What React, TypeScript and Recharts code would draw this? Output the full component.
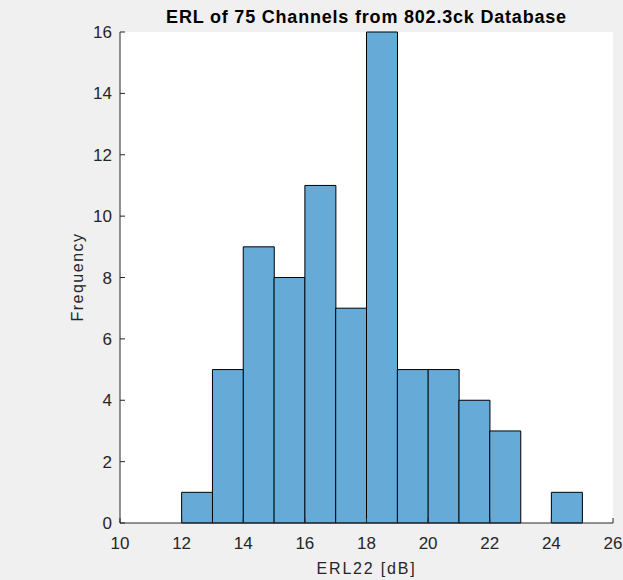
import { Bar, CartesianGrid, ComposedChart, XAxis, YAxis } from "recharts";

// histogram bins of width 1 dB, left edges
const binStarts = [10, 11, 12, 13, 14, 15, 16, 17, 18, 19, 20, 21, 22, 23, 24, 25];
const counts = [0, 0, 1, 5, 9, 8, 11, 7, 16, 5, 5, 4, 3, 0, 1, 0];
const xTicks = [10, 12, 14, 16, 18, 20, 22, 24, 26];
const yTicks = [0, 2, 4, 6, 8, 10, 12, 14, 16];

const data = binStarts.map((s, i) => ({ center: s + 0.5, count: counts[i] }));

const ink = "#262626";
const font = "'Liberation Sans', Arial, sans-serif";
const tickStyle = { fill: ink, fontSize: 17, fontFamily: font };

export default function App() {
  return (
    <div
      style={{
        position: "absolute",
        left: 0,
        top: 0,
        width: 623,
        height: 580,
        background: "#f0f0f0",
        fontFamily: font,
      }}
    >
      <ComposedChart
        width={623}
        height={580}
        data={data}
        barCategoryGap={0}
        barGap={0}
        margin={{ top: 32, right: 10, bottom: 0, left: 0 }}
      >
        <CartesianGrid horizontal={false} vertical={false} fill="#ffffff" xAxisId="bottom" yAxisId="left" />
        <XAxis
          xAxisId="bottom"
          dataKey="center"
          type="number"
          domain={[10, 26]}
          ticks={xTicks}
          allowDataOverflow
          height={57}
          tickSize={-5}
          tickMargin={19}
          stroke={ink}
          tick={tickStyle}
        />
        <XAxis
          xAxisId="top"
          orientation="top"
          dataKey="center"
          type="number"
          domain={[10, 26]}
          ticks={xTicks}
          allowDataOverflow
          height={0}
          tickSize={-5}
          tickFormatter={() => ""}
          stroke={ink}
        />
        <YAxis
          yAxisId="left"
          type="number"
          domain={[0, 16]}
          ticks={yTicks}
          width={120}
          tickSize={-5}
          tickMargin={13}
          stroke={ink}
          tick={tickStyle}
        />
        <YAxis
          yAxisId="right"
          orientation="right"
          type="number"
          domain={[0, 16]}
          ticks={yTicks}
          width={0}
          tickSize={-5}
          tickFormatter={() => ""}
          stroke={ink}
        />
        <Bar
          xAxisId="bottom"
          yAxisId="left"
          dataKey="count"
          fill="#66aad7"
          stroke="#000000"
          strokeWidth={1}
          isAnimationActive={false}
        />
      </ComposedChart>
      <div
        style={{
          position: "absolute",
          left: 120,
          width: 493,
          top: 7,
          textAlign: "center",
          fontWeight: "bold",
          fontSize: 18,
          letterSpacing: 0.8,
          color: "#000",
          whiteSpace: "nowrap",
        }}
      >
        ERL of 75 Channels from 802.3ck Database
      </div>
      <div
        style={{
          position: "absolute",
          left: 120,
          width: 493,
          top: 560,
          textAlign: "center",
          fontSize: 16,
          letterSpacing: 1.8,
          color: ink,
        }}
      >
        ERL22 [dB]
      </div>
      <div
        style={{
          position: "absolute",
          left: 78,
          top: 277,
          transform: "translate(-50%, -50%) rotate(-90deg)",
          fontSize: 16,
          letterSpacing: 1.5,
          color: ink,
          whiteSpace: "nowrap",
        }}
      >
        Frequency
      </div>
    </div>
  );
}
